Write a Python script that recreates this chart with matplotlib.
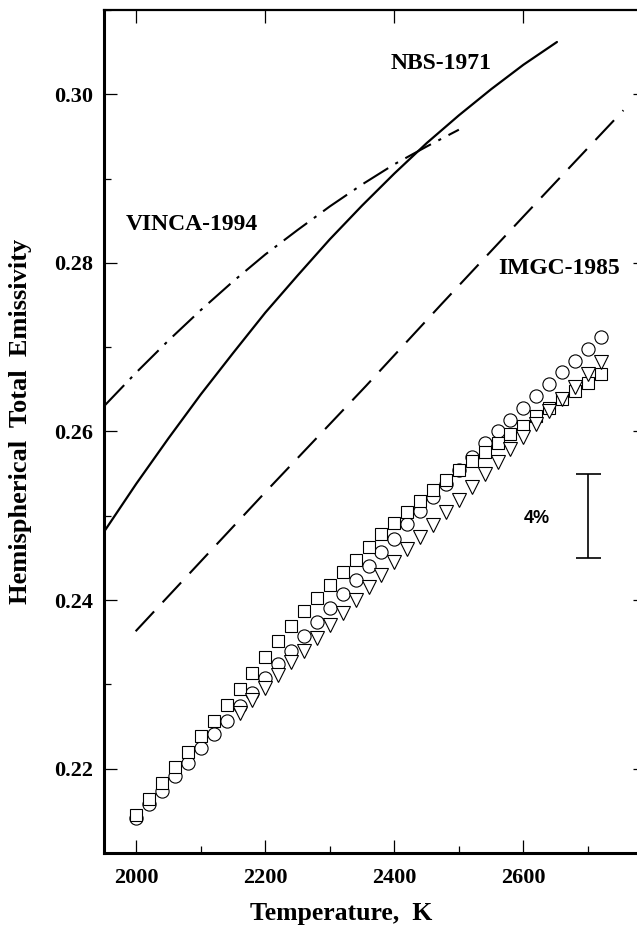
import matplotlib
matplotlib.use("Agg")
import matplotlib.pyplot as plt
from matplotlib.ticker import MultipleLocator

plt.rcParams['font.family'] = ['Liberation Serif', 'DejaVu Serif']
plt.rcParams['font.weight'] = 'bold'

# reference curves
nbs_T = [1950, 2000, 2050, 2100, 2150, 2200, 2250, 2300, 2350, 2400, 2450,
         2500, 2550, 2600, 2652]
nbs_eps = [0.2481, 0.2538, 0.2592, 0.2644, 0.2693, 0.2741, 0.2785, 0.2828, 0.2868,
           0.2906, 0.2942, 0.2975, 0.3006, 0.3035, 0.3062]

vinca_T = [1950, 2000, 2050, 2100, 2150, 2200, 2250, 2300, 2350, 2400, 2450, 2500]
vinca_eps = [0.2630, 0.2670, 0.2708, 0.2744, 0.2778, 0.2810, 0.2839, 0.2867, 0.2893,
             0.2917, 0.2938, 0.2958]

imgc_T = [1999, 2200, 2356, 2473, 2600, 2755]
imgc_eps = [0.2363, 0.2528, 0.2654, 0.2751, 0.2855, 0.2981]

# measured points
sq_T = [2000, 2020, 2040, 2060, 2080, 2100, 2120, 2140, 2160, 2180, 2200, 2220, 2240,
        2260, 2280, 2300, 2320, 2340, 2360, 2380, 2400, 2420, 2440, 2460, 2480, 2500,
        2520, 2540, 2560, 2580, 2600, 2620, 2640, 2660, 2680, 2700, 2720]
sq_eps = [0.2145, 0.2164, 0.2183, 0.2202, 0.2220, 0.2239, 0.2257, 0.2276, 0.2295, 0.2313,
          0.2332, 0.2351, 0.2369, 0.2387, 0.2403, 0.2418, 0.2433, 0.2448, 0.2463, 0.2478,
          0.2492, 0.2505, 0.2517, 0.2530, 0.2542, 0.2554, 0.2565, 0.2576, 0.2586, 0.2597,
          0.2607, 0.2618, 0.2628, 0.2638, 0.2648, 0.2658, 0.2668]

circ_T = sq_T
circ_eps = [0.2141, 0.2158, 0.2174, 0.2191, 0.2207, 0.2224, 0.2241, 0.2257, 0.2274, 0.2290,
            0.2307, 0.2324, 0.2340, 0.2357, 0.2374, 0.2390, 0.2407, 0.2424, 0.2440, 0.2457,
            0.2473, 0.2490, 0.2506, 0.2522, 0.2538, 0.2554, 0.2570, 0.2586, 0.2600, 0.2614,
            0.2628, 0.2642, 0.2656, 0.2670, 0.2684, 0.2698, 0.2712]

tri_T = [2160, 2180, 2200, 2220, 2240, 2260, 2280, 2300, 2320, 2340, 2360, 2380, 2400,
         2420, 2440, 2460, 2480, 2500, 2520, 2540, 2560, 2580, 2600, 2620, 2640, 2660,
         2680, 2700, 2720]
tri_eps = [0.2266, 0.2281, 0.2296, 0.2311, 0.2326, 0.2340, 0.2355, 0.2370, 0.2385, 0.2400,
           0.2415, 0.2430, 0.2445, 0.2460, 0.2475, 0.2489, 0.2504, 0.2519, 0.2534, 0.2549,
           0.2564, 0.2579, 0.2594, 0.2609, 0.2624, 0.2638, 0.2653, 0.2668, 0.2683]

# 4 % error bar
bar_T = 2700
bar_mid = 0.250
bar_half = 0.005

fig = plt.figure(figsize=(6.37, 9.32), dpi=100)
ax = fig.add_axes([0.1633, 0.0848, 0.8508, 0.9045])

ax.plot(nbs_T, nbs_eps, color='black', lw=1.6, solid_capstyle='round')
l, = ax.plot(vinca_T, vinca_eps, color='black', lw=1.5)
l.set_dashes([14, 4, 1.5, 4])
l, = ax.plot(imgc_T, imgc_eps, color='black', lw=1.5)
l.set_dashes([13, 6])

mk = dict(ls='none', mfc='white', mec='black', mew=0.8)
ax.plot(circ_T, circ_eps, marker='o', ms=9.5, **mk)
ax.plot(sq_T, sq_eps, marker='s', ms=8.5, **mk)
ax.plot(tri_T, tri_eps, marker='v', ms=9.5, **mk)

ax.errorbar([bar_T], [bar_mid], yerr=[bar_half], fmt='none', ecolor='black',
            elinewidth=1.2, capsize=9, capthick=1.2)
ax.text(2621, 0.2497, '4%', fontsize=13, fontweight='bold', family='Liberation Sans',
        ha='center', va='center')

ax.text(2472, 0.3037, 'NBS-1971', fontsize=17, ha='center', va='center')
ax.text(1984, 0.2845, 'VINCA-1994', fontsize=17, ha='left', va='center')
ax.text(2561, 0.2793, 'IMGC-1985', fontsize=17, ha='left', va='center')

ax.set_xlim(1950, 2790)
ax.set_ylim(0.21, 0.31)
ax.xaxis.set_major_locator(MultipleLocator(200))
ax.xaxis.set_minor_locator(MultipleLocator(100))
ax.yaxis.set_major_locator(MultipleLocator(0.02))
ax.yaxis.set_minor_locator(MultipleLocator(0.01))
ax.yaxis.set_major_formatter(plt.FuncFormatter(lambda v, p: f'{v:.2f}'))

ax.tick_params(which='both', direction='in', top=True, right=True, width=0.9)
ax.tick_params(which='major', length=9.5, labelsize=16)
ax.tick_params(which='minor', length=5, top=False, right=False)
ax.tick_params(axis='x', pad=11)
ax.tick_params(axis='y', pad=8)

ax.spines['left'].set_linewidth(2.2)
ax.spines['bottom'].set_linewidth(2.2)
ax.spines['top'].set_linewidth(1.6)
ax.spines['right'].set_linewidth(1.6)

ax.set_xlabel('Temperature,  K', fontsize=18.5, fontweight='bold')
ax.set_ylabel('Hemispherical  Total  Emissivity', fontsize=19, fontweight='bold')
ax.xaxis.set_label_coords(0.438, -0.058)
ax.yaxis.set_label_coords(-0.133, 0.5125)

fig.savefig('out.png', dpi=100)
